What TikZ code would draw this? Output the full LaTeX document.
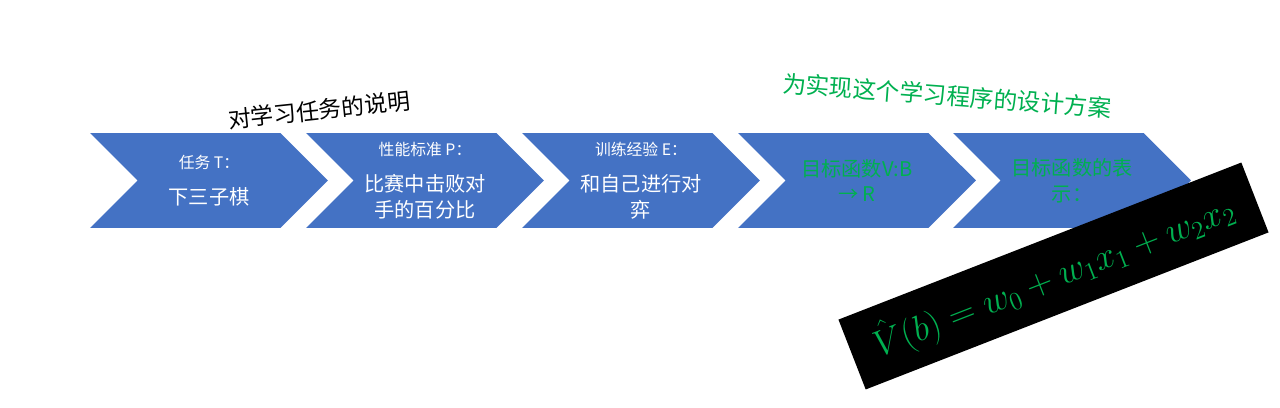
\documentclass[tikz,border=0pt]{standalone}
\usepackage{fontspec}
\newfontfamily\cjk{Noto Sans CJK SC}
\usepackage{tikz}
\usetikzlibrary{shapes.symbols}

\definecolor{chevblue}{HTML}{4472C4}
\definecolor{officegreen}{HTML}{00B050}
\newcommand{\stagehead}[1]{{\fontsize{9}{10}\selectfont #1}}

\begin{document}
\begin{tikzpicture}[
    x=0.02cm,
    y=0.02cm,
    stage/.style={
        signal,
        signal from=west,
        signal to=east,
        signal pointer angle=90,
        fill=chevblue,
        text=white,
        align=center,
        minimum width=4.76cm,
        minimum height=1.9cm,
        inner sep=0pt,
        font=\cjk\fontsize{11.5}{14.7}\selectfont
    },
    caption/.style={
        align=center,
        inner sep=0pt,
        font=\cjk\fontsize{13}{15}\selectfont
    },
    formula/.style={
        fill=black,
        text=officegreen,
        inner sep=0pt,
        minimum width=8.65cm,
        minimum height=1.5cm,
        font=\fontsize{22.5}{26}\selectfont
    }
]

\useasboundingbox (0,0) rectangle (1280,408);

\node[stage] (task) at (209,227.5) {\stagehead{任务 T：}\\[6pt]下三子棋};
\node[stage] (perf) at (425,227.5) {\stagehead{性能标准 P：}\\[6pt]比赛中击败对\\手的百分比};
\node[stage] (exper) at (641,227.5) {\stagehead{训练经验 E：}\\[6pt]和自己进行对\\弈};
\node[stage, text=officegreen] (target) at (857,227.5) {目标函数V:B\\→ R};
\node[stage, text=officegreen] (repr) at (1072,227.5) {目标函数的表\\示：};

\node[caption, rotate=6] (taskcap) at (319,298) {对学习任务的说明};
\node[caption, rotate=-4.3, text=officegreen, font=\cjk\fontsize{13.4}{15}\selectfont] (designcap) at (947,312.5) {为实现这个学习程序的设计方案};

\node[formula, rotate=21.3] (vhat) at (1053.5,132) {$\hat{V}(b) = w_0 + w_1x_1 + w_2x_2$};

\end{tikzpicture}
\end{document}
